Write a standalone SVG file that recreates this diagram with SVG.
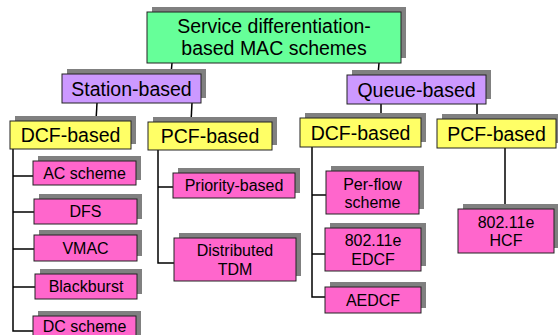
<svg xmlns="http://www.w3.org/2000/svg" width="558" height="335" viewBox="0 0 558 335">
<style>
.sh{fill:#808080}
.b{stroke:#222;stroke-width:1}
.g{fill:#66ff99}
.p{fill:#cc99ff}
.y{fill:#ffff66}
.k{fill:#ff66cc}
.t{font-family:"Liberation Sans",Arial,sans-serif;font-size:19.5px;fill:#000;text-anchor:middle}
.s{font-family:"Liberation Sans",Arial,sans-serif;font-size:16px;fill:#000;text-anchor:middle}
.c{stroke:#000;stroke-width:1.5;fill:none}
</style>
<rect width="558" height="335" fill="#fff"/>
<g id="connectors">
<line class="c" x1="172" y1="63" x2="171" y2="74"/>
<line class="c" x1="379" y1="63" x2="378" y2="75"/>
<line class="c" x1="97" y1="103" x2="96" y2="121"/>
<line class="c" x1="192" y1="103" x2="191" y2="122"/>
<line class="c" x1="381" y1="104" x2="381" y2="118"/>
<line class="c" x1="477" y1="104" x2="477" y2="119"/>
<polyline class="c" points="13,149 13,331 33,331"/>
<line class="c" x1="13" y1="176" x2="33" y2="176"/>
<line class="c" x1="13" y1="212" x2="34" y2="212"/>
<line class="c" x1="13" y1="249" x2="34" y2="249"/>
<line class="c" x1="13" y1="287" x2="35" y2="287"/>
<polyline class="c" points="158,150 158,263 174,263"/>
<line class="c" x1="158" y1="187" x2="173" y2="187"/>
<polyline class="c" points="312,147 312,297 325,297"/>
<line class="c" x1="312" y1="195" x2="326" y2="195"/>
<line class="c" x1="312" y1="254" x2="325" y2="254"/>
<line class="c" x1="505" y1="148" x2="505" y2="209"/>
</g>
<g id="root">
<rect class="sh" x="152" y="7" width="254" height="51"/>
<rect class="g b" x="147" y="12" width="254" height="51"/>
<text class="t" x="274" y="33">Service differentiation-</text>
<text class="t" x="274" y="55">based MAC schemes</text>
</g>
<g id="station">
<rect class="sh" x="67" y="69" width="139" height="29"/>
<rect class="p b" x="62" y="74" width="139" height="29"/>
<text class="t" x="131.5" y="96">Station-based</text>
</g>
<g id="queue">
<rect class="sh" x="352" y="70" width="139" height="29"/>
<rect class="p b" x="347" y="75" width="139" height="29"/>
<text class="t" x="416.5" y="97">Queue-based</text>
</g>
<g id="s-dcf">
<rect class="sh" x="15" y="116" width="121" height="28"/>
<rect class="y b" x="10" y="121" width="121" height="28"/>
<text class="t" x="70.5" y="142">DCF-based</text>
</g>
<g id="s-pcf">
<rect class="sh" x="153" y="117" width="124" height="28"/>
<rect class="y b" x="148" y="122" width="124" height="28"/>
<text class="t" x="210" y="143">PCF-based</text>
</g>
<g id="q-dcf">
<rect class="sh" x="305" y="113" width="121" height="29"/>
<rect class="y b" x="300" y="118" width="121" height="29"/>
<text class="t" x="360.5" y="139.5">DCF-based</text>
</g>
<g id="q-pcf">
<rect class="sh" x="442" y="114" width="119" height="29"/>
<rect class="y b" x="437" y="119" width="119" height="29"/>
<text class="t" x="496.5" y="140.5">PCF-based</text>
</g>
<g id="ac">
<rect class="sh" x="38" y="156" width="103" height="24"/>
<rect class="k b" x="33" y="161" width="103" height="24"/>
<text class="s" x="84.5" y="178.5">AC scheme</text>
</g>
<g id="dfs">
<rect class="sh" x="39" y="194" width="103" height="25"/>
<rect class="k b" x="34" y="199" width="103" height="25"/>
<text class="s" x="85.5" y="217">DFS</text>
</g>
<g id="vmac">
<rect class="sh" x="39" y="230" width="103" height="26"/>
<rect class="k b" x="34" y="235" width="103" height="26"/>
<text class="s" x="85.5" y="253.5">VMAC</text>
</g>
<g id="blackburst">
<rect class="sh" x="40" y="269" width="102" height="25"/>
<rect class="k b" x="35" y="274" width="102" height="25"/>
<text class="s" x="86" y="292">Blackburst</text>
</g>
<g id="dc">
<rect class="sh" x="38" y="311" width="103" height="26"/>
<rect class="k b" x="33" y="316" width="103" height="26"/>
<text class="s" x="84.5" y="332">DC scheme</text>
</g>
<g id="priority">
<rect class="sh" x="178" y="168" width="122" height="25"/>
<rect class="k b" x="173" y="173" width="122" height="25"/>
<text class="s" x="234" y="191">Priority-based</text>
</g>
<g id="tdm">
<rect class="sh" x="179" y="233" width="122" height="43"/>
<rect class="k b" x="174" y="238" width="122" height="43"/>
<text class="s" x="235" y="256">Distributed</text>
<text class="s" x="235" y="274.5">TDM</text>
</g>
<g id="perflow">
<rect class="sh" x="331" y="166" width="93" height="43"/>
<rect class="k b" x="326" y="171" width="93" height="43"/>
<text class="s" x="372.5" y="189.5">Per-flow</text>
<text class="s" x="372.5" y="208">scheme</text>
</g>
<g id="edcf">
<rect class="sh" x="330" y="223" width="96" height="43"/>
<rect class="k b" x="325" y="228" width="96" height="43"/>
<text class="s" x="373" y="246">802.11e</text>
<text class="s" x="373" y="264.5">EDCF</text>
</g>
<g id="aedcf">
<rect class="sh" x="330" y="282" width="96" height="26"/>
<rect class="k b" x="325" y="287" width="96" height="26"/>
<text class="s" x="373" y="305.5">AEDCF</text>
</g>
<g id="hcf">
<rect class="sh" x="463" y="204" width="96" height="44"/>
<rect class="k b" x="458" y="209" width="96" height="44"/>
<text class="s" x="506" y="227.5">802.11e</text>
<text class="s" x="506" y="246">HCF</text>
</g>
</svg>
